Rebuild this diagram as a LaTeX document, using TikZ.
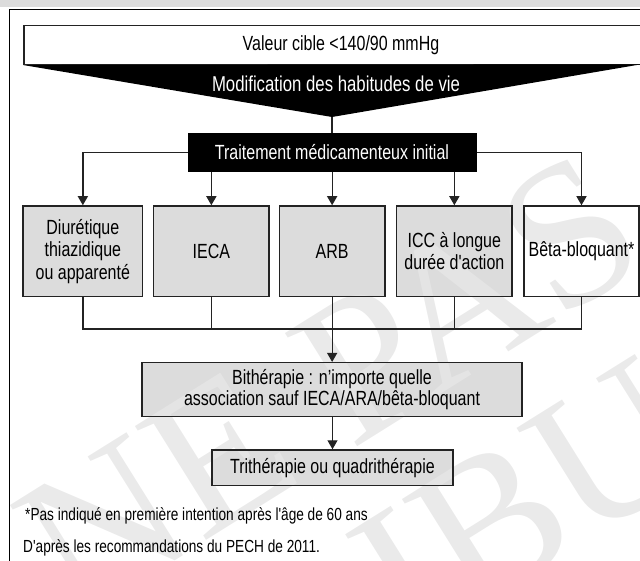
\documentclass[tikz,border=0pt]{standalone}
\usepackage{fontspec}
\setmainfont{Liberation Sans}[FakeStretch=0.78, Ligatures=TeXOff]
\newfontfamily\wmfont{Liberation Serif}
\usetikzlibrary{arrows.meta}
\definecolor{boxgray}{RGB}{220,220,220}
\definecolor{linegray}{RGB}{35,35,35}
\definecolor{wmgray}{RGB}{230,230,230}
\pgfdeclarelayer{back}
\pgfdeclarelayer{wm}
\pgfsetlayers{back,wm,main}
\begin{document}
\begin{tikzpicture}[x=1pt,y=-1pt,
  txt/.style={font=\fontsize{20.5}{22.3}\selectfont, text=black, align=center},
  boxline/.style={draw=linegray, line width=1.5pt, inner sep=0pt},
  conn/.style={draw=linegray, line width=1.3pt},
  arr/.style={conn, -{Triangle[width=10pt,length=9pt]}},
  drug/.style={boxline, txt, minimum height=90.7pt},
  wmtext/.style={font=\wmfont\fontsize{205}{205}\selectfont, text=wmgray, text opacity=0.85, inner sep=0pt},
  note/.style={font=\fontsize{17.5}{18}\selectfont, anchor=west, inner sep=0pt}
]
\useasboundingbox (0,0) rectangle (640,561);
\clip (0,0) rectangle (640,561);

% frame
\draw[line width=1.5pt, black] (9.3,580) -- (9.3,9.3) -- (660,9.3);

% top target box and funnel
\node[boxline, txt, minimum width=634pt, minimum height=38.8pt] (vc) at (341,44.9) {Valeur cible <140/90 mmHg};
\coordinate (apex) at (332,117);
\fill[black] (vc.south west) -- (641,64.3) -- (apex) -- cycle;
\node[txt, text=white, font=\fontsize{21.5}{22}\selectfont] (mod) at (336,84) {Modification des habitudes de vie};

% initial treatment
\node[draw=black, fill=black, line width=1pt, txt, text=white, minimum width=288pt, minimum height=38.7pt] (tr) at (332,152.4) {Traitement médicamenteux initial};
\draw[conn] (apex) -- (tr.north);

% drug classes
\node[drug, minimum width=119.7pt] (b1) at (82.85,251.35) {Diurétique\\thiazidique\\ou apparenté};
\node[drug, minimum width=115.3pt] (b2) at (211.35,251.35) {IECA};
\node[drug, minimum width=105.7pt] (b3) at (332.15,251.35) {ARB};
\node[drug, minimum width=115.3pt] (b4) at (454.35,251.35) {ICC à longue\\durée d'action};
\node[drug, minimum width=115pt] (b5) at (581.5,251.35) {Bêta-bloquant*};

\draw[arr] (tr.west) -| (b1.north);
\draw[arr] (tr.east) -| (b5.north);
\draw[arr] (tr.south -| b2.north) -- (b2.north);
\draw[arr] (tr.south -| b3.north) -- (b3.north);
\draw[arr] (tr.south -| b4.north) -- (b4.north);

% combination therapies
\node[boxline, txt, font=\fontsize{20.5}{21.5}\selectfont, minimum width=380pt, minimum height=54pt] (bi) at (332,389.7) {Bithérapie : n’importe quelle\\association sauf IECA/ARA/bêta-bloquant};
\node[boxline, txt, minimum width=241pt, minimum height=35.7pt] (tri) at (332.5,467.85) {Trithérapie ou quadrithérapie};

\coordinate (j) at (332,329);
\draw[conn] (b1.south) -- (b1.south |- j) -- (b5.south |- j) -- (b5.south);
\draw[conn] (b2.south) -- (b2.south |- j);
\draw[conn] (b4.south) -- (b4.south |- j);
\draw[arr] (b3.south) -- (bi.north -| b3.south);
\draw[arr] (bi.south -| tri.north) -- (tri.north);

% notes
\node[note] (fn) at (25,516) {*Pas indiqué en première intention après l'âge de 60 ans};
\node[note] (src) at (23,548) {D'après les recommandations du PECH de 2011.};

% fills behind
\begin{pgfonlayer}{back}
  \fill[boxgray] (0,0) rectangle (640,7.5);
  \foreach \b in {b1,b2,b3,b4,bi,tri}{
    \fill[boxgray] (\b.south west) rectangle (\b.north east);
  }
\end{pgfonlayer}

% watermark
\begin{pgfonlayer}{wm}
  \node[wmtext, rotate=32] (wm1) at (330,385) {NE PAS};
  \node[wmtext, rotate=32] (wm2) at (385,590) {DISTRIBUER};
\end{pgfonlayer}
\end{tikzpicture}
\end{document}
